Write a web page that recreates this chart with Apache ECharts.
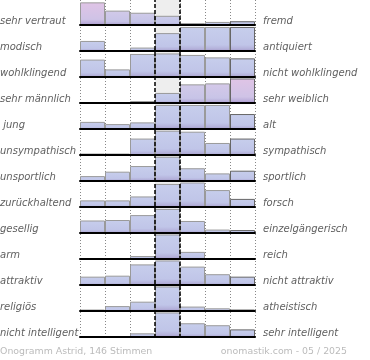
<!DOCTYPE html>
<html>
<head>
<meta charset="utf-8">
<script src="https://cdn.jsdelivr.net/npm/echarts@6/dist/echarts.min.js"></script>
<style>html,body{margin:0;padding:0;background:#fff}#c{width:370px;height:360px}</style>
</head>
<body>
<div id="c"></div>
<script>
// scale positions 1..7
const scale = ['1', '2', '3', '4', '5', '6', '7'];
const leftLabels = ['sehr vertraut', 'modisch', 'wohlklingend', 'sehr männlich', ' jung', 'unsympathisch', 'unsportlich', 'zurückhaltend', 'gesellig', 'arm', 'attraktiv', 'religiös', 'nicht intelligent'];
const rightLabels = ['fremd', 'antiquiert', 'nicht wohlklingend', 'sehr weiblich', 'alt', 'sympathisch', 'sportlich', 'forsch', 'einzelgängerisch', 'reich', 'nicht attraktiv', 'atheistisch', 'sehr intelligent'];
// relative bar heights (row maximum ~ 100)
const vertraut = [96, 61, 52, 39, 8, 13, 16];
const modisch = [41, 0, 14, 73, 98, 98, 98];
const wohlklingend = [71, 31, 94, 96, 90, 80, 76];
const maennlich = [0, 0, 8, 41, 76, 80, 100];
const jung = [29, 20, 27, 98, 98, 98, 61];
const unsympathisch = [6, 6, 67, 99, 95, 49, 67];
const unsportlich = [20, 38, 61, 99, 52, 31, 42];
const zurueckhaltend = [27, 27, 43, 94, 100, 69, 33];
const gesellig = [51, 53, 73, 98, 49, 14, 12];
const arm = [4, 4, 12, 100, 29, 4, 4];
const attraktiv = [34, 38, 84, 100, 75, 44, 34];
const religioes = [6, 20, 38, 100, 18, 11, 6];
const intelligent = [2, 2, 15, 100, 56, 48, 31];
const footerLeft = 'Onogramm Astrid, 146 Stimmen';
const footerRight = 'onomastik.com - 05 / 2025';

const rows = [vertraut, modisch, wohlklingend, maennlich, jung, unsympathisch, unsportlich, zurueckhaltend, gesellig, arm, attraktiv, religioes, intelligent];

// style: pinkish tint for some bars
const tint = {'0-0': 1, '0-1': 0.45, '0-2': 0.35, '0-3': 0.2, '3-4': 0.45, '3-5': 0.55, '3-6': 1};

function mix(a, b, t) {
  const pa = [1, 3, 5].map(i => parseInt(a.substr(i, 2), 16));
  const pb = [1, 3, 5].map(i => parseInt(b.substr(i, 2), 16));
  return 'rgb(' + pa.map((v, i) => Math.round(v + (pb[i] - v) * t)).join(',') + ')';
}
function grad(t) {
  return {
    type: 'linear', x: 0, y: 0, x2: 0, y2: 1,
    colorStops: [
      {offset: 0, color: mix('#c7ceec', '#e0c4e6', t)},
      {offset: 0.75, color: mix('#c0c5e8', '#cfc3e6', t)},
      {offset: 0.93, color: mix('#b2aed8', '#b8aad8', t)},
      {offset: 1, color: '#9a8ac0'}
    ]
  };
}

const ROW_H = 26, LEFT = 80, WIDTH = 175, YMAX = 106;
const grids = [], xAxes = [], yAxes = [], series = [], graphics = [];

rows.forEach((vals, i) => {
  const top = ROW_H * i - 1;
  const base = top + ROW_H;
  grids.push({left: LEFT, width: WIDTH, top: top, height: ROW_H});
  xAxes.push({
    type: 'category', gridIndex: i, data: scale, z: 5,
    axisLine: {show: true, lineStyle: {color: '#000', width: 2}},
    axisTick: {show: false}, axisLabel: {show: false}, splitLine: {show: false}
  });
  yAxes.push({type: 'value', gridIndex: i, min: 0, max: YMAX, show: false, splitLine: {show: false}});
  series.push({
    type: 'bar', xAxisIndex: i, yAxisIndex: i, z: 3,
    barWidth: '100%', barCategoryGap: 0, silent: true,
    data: vals.map((v, j) => ({
      value: v,
      itemStyle: {
        color: grad(tint[i + '-' + j] || 0),
        borderColor: j === 6 ? '#666' : '#9a9a9a', borderWidth: v > 0 ? 1 : 0
      }
    }))
  });
  graphics.push({
    type: 'text', x: 0, y: base - 4, z: 10,
    style: {text: leftLabels[i], font: 'italic 10px "DejaVu Sans"', fill: '#606060', verticalAlign: 'middle', align: 'left'}
  });
  graphics.push({
    type: 'text', x: 263, y: base - 4, z: 10,
    style: {text: rightLabels[i], font: 'italic 10px "DejaVu Sans"', fill: '#606060', verticalAlign: 'middle', align: 'left'}
  });
});

// overlay grid for vertical lines and middle column background
const ov = rows.length;
grids.push({left: LEFT, width: WIDTH, top: 0, height: ROW_H * rows.length});
xAxes.push({
  type: 'value', gridIndex: ov, min: 0, max: 7, interval: 1, z: 0,
  axisLine: {show: false}, axisTick: {show: false}, axisLabel: {show: false},
  splitLine: {show: true, lineStyle: {color: '#888', type: [1, 2], width: 1}}
});
yAxes.push({type: 'value', gridIndex: ov, min: 0, max: 1, show: false, splitLine: {show: false}});
series.push({
  type: 'line', xAxisIndex: ov, yAxisIndex: ov, data: [], z: 1, silent: true,
  markArea: {silent: true, itemStyle: {color: '#eeeeee'}, data: [[{xAxis: 3, yAxis: 0}, {xAxis: 4, yAxis: 1}]]}
});
series.push({
  type: 'line', xAxisIndex: ov, yAxisIndex: ov, data: [], z: 10, silent: true,
  markLine: {
    silent: true, symbol: 'none', label: {show: false},
    lineStyle: {color: '#000', type: [4, 2], width: 1.5},
    data: [{xAxis: 3}, {xAxis: 4}]
  }
});

graphics.push({
  type: 'text', x: 0, y: 352, z: 10,
  style: {text: footerLeft, font: '9.4px "DejaVu Sans"', fill: '#bbbbbb', verticalAlign: 'middle', align: 'left'}
});
graphics.push({
  type: 'text', x: 347, y: 352, z: 10,
  style: {text: footerRight, font: '9.4px "DejaVu Sans"', fill: '#bbbbbb', verticalAlign: 'middle', align: 'right'}
});

const chart = echarts.init(document.getElementById('c'), null, {renderer: 'canvas'});
chart.setOption({
  animation: false,
  backgroundColor: '#fff',
  grid: grids, xAxis: xAxes, yAxis: yAxes, series: series, graphic: graphics
});
</script>
</body>
</html>
